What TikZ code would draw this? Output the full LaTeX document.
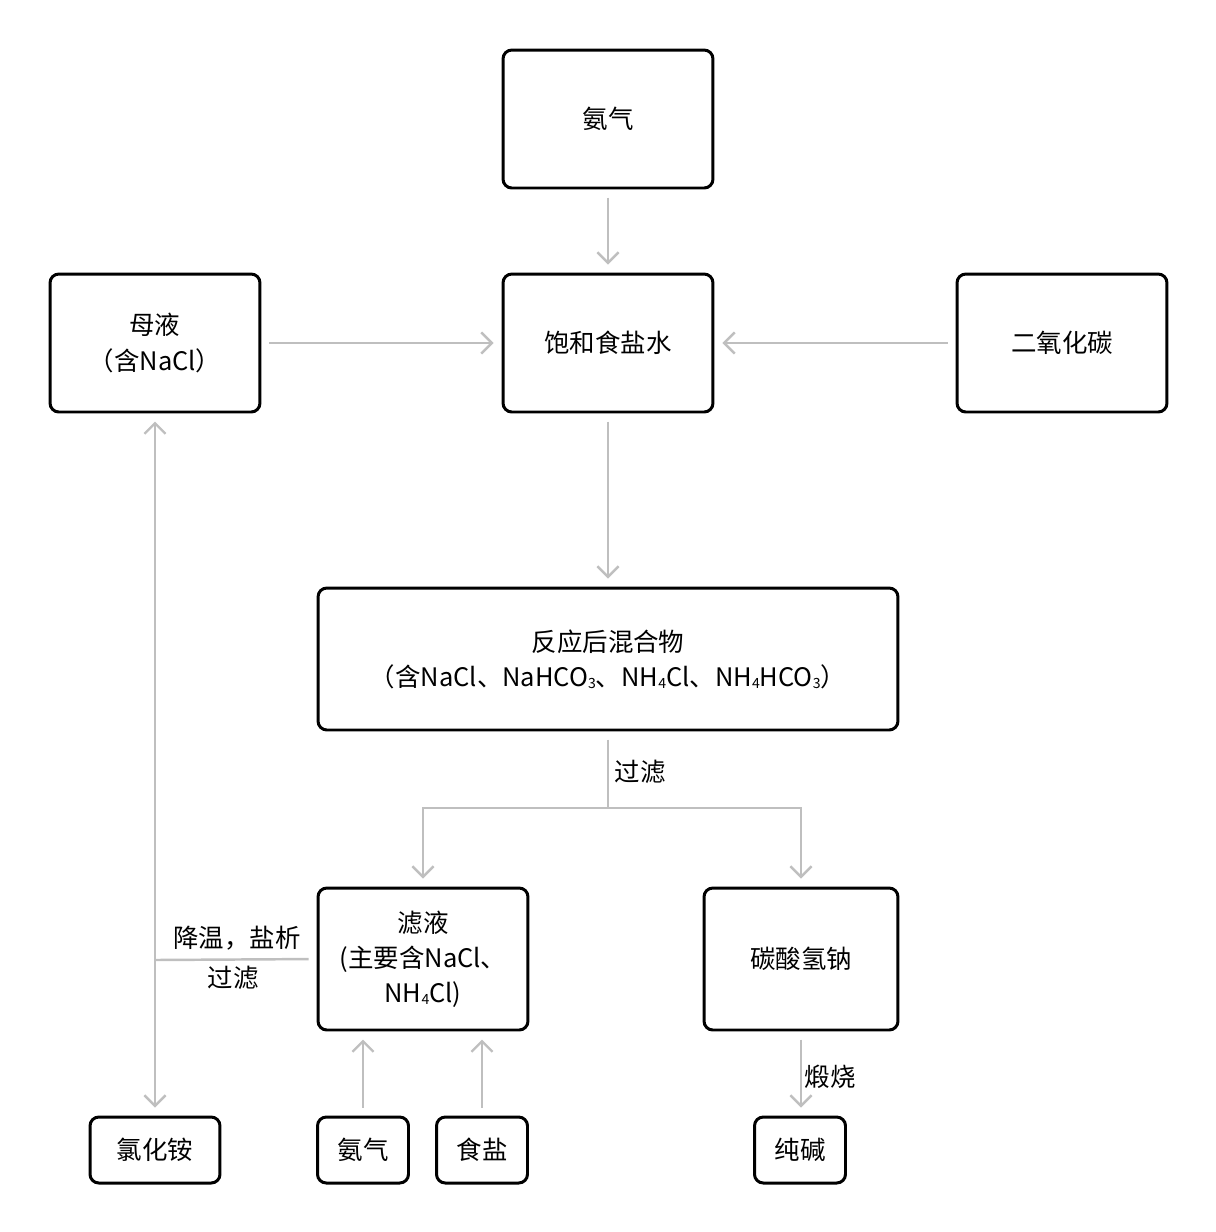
\documentclass[tikz,border=0pt]{standalone}
\usepackage{fontspec}
\setmainfont{Noto Sans CJK SC}
\usetikzlibrary{arrows.meta,calc}
\newcommand{\sbs}[1]{\raisebox{-0.15ex}{\footnotesize #1}}
\tikzset{
  box/.style={draw=black, line width=1.7pt, rounded corners=5pt, align=center,
    inner sep=0pt, font=\fontsize{14.5}{20}\selectfont},
  flow/.style={draw=black!25, line width=1.4pt, shorten >=8pt*0.57, shorten <=8pt*0.57,
    -{Straight Barb[length=6pt,width=12pt]}},
  line/.style={draw=black!25, line width=1.4pt},
  lbl/.style={font=\fontsize{14.5}{20}\selectfont, align=center}
}
\begin{document}
\begin{tikzpicture}[x=0.02cm,y=-0.02cm]
\useasboundingbox (0,0) rectangle (1216,1232);
% boxes
\node[box, minimum width=4.2cm, minimum height=2.76cm] (nh3) at (608,119) {氨气};
\node[box, minimum width=4.2cm, minimum height=2.76cm] (brine) at (608,343) {饱和食盐水};
\node[box, minimum width=4.2cm, minimum height=2.76cm] (mother) at (155,343) {母液\\（含NaCl）};
\node[box, minimum width=4.2cm, minimum height=2.76cm] (co2) at (1062,343) {二氧化碳};
\node[box, minimum width=11.6cm, minimum height=2.84cm] (mix) at (608,659)
  {反应后混合物\\（含NaCl、NaHCO\sbs{3}、NH\sbs{4}Cl、NH\sbs{4}HCO\sbs{3}）};
\node[box, minimum width=4.2cm, minimum height=2.84cm] (filt) at (423,959)
  {滤液\\(主要含NaCl、\\NH\sbs{4}Cl)};
\node[box, minimum width=3.88cm, minimum height=2.84cm] (nahco3) at (801,959) {碳酸氢钠};
\node[box, minimum width=2.6cm, minimum height=1.32cm] (nh4cl) at (155,1150) {氯化铵};
\node[box, minimum width=1.82cm, minimum height=1.32cm] (nh3b) at (363,1150) {氨气};
\node[box, minimum width=1.82cm, minimum height=1.32cm] (salt) at (482,1150) {食盐};
\node[box, minimum width=1.82cm, minimum height=1.32cm] (soda) at (800,1150) {纯碱};
% connectors
\draw[flow] (nh3) -- (brine);
\draw[flow] (mother) -- (brine);
\draw[flow] (co2) -- (brine);
\draw[flow] (brine) -- (mix);
\coordinate (fork) at (608,808);
\coordinate (junc) at (155,960);
\draw[line, shorten <=8pt*0.57] (mix) -- (fork);
\draw[flow, shorten <=0pt] (fork) -| (filt);
\draw[flow, shorten <=0pt] (fork) -| (nahco3);
\node[lbl] (lfilt) at (640,772) {过滤};
\draw[line, shorten <=8pt*0.57] (filt.west) -- (junc);
\draw[flow, shorten <=0pt] (junc) -- (mother);
\draw[flow, shorten <=0pt] (junc) -- (nh4cl);
\node[lbl] (lcool) at (237,938) {降温，盐析};
\node[lbl] (lfilt2) at (233,978) {过滤};
\draw[flow] (nh3b) -- (nh3b |- filt.south);
\draw[flow] (salt) -- (salt |- filt.south);
\draw[flow] (nahco3) -- (nahco3 |- soda.north);
\node[lbl] (lburn) at (830,1077) {煅烧};
\end{tikzpicture}
\end{document}
